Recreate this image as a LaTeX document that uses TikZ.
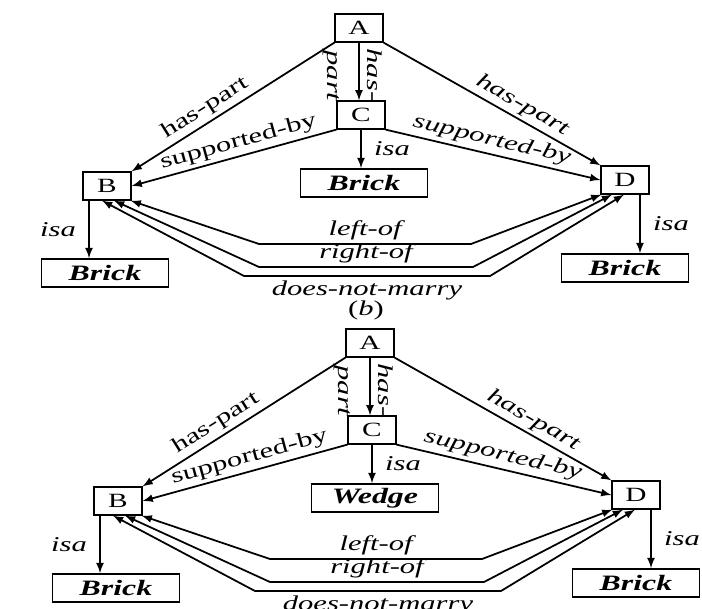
\documentclass[tikz,border=0pt]{standalone}
\usepackage{fontspec}
\setmainfont{Liberation Serif}[FakeStretch=1.45]
\usetikzlibrary{arrows,calc}
\tikzset{>=latex}
\tikzset{
  letter/.style={draw,line width=1pt,minimum width=0.95cm,minimum height=0.55cm,inner sep=0pt,font=\fontsize{11.5}{11.5}\selectfont},
  kind/.style={draw,line width=1pt,minimum width=2.54cm,minimum height=0.56cm,inner sep=0pt,font=\fontsize{12.5}{12.5}\selectfont\bfseries\itshape},
  rel/.style={font=\fontsize{12}{12}\selectfont\itshape,inner sep=2pt},
  relup/.style={font=\fontsize{12}{12}\selectfont,inner sep=2pt},
  link/.style={->,line width=1pt},
  twin/.style={<->,line width=1pt}
}

\begin{document}
\begin{tikzpicture}[x=0.02cm,y=-0.02cm]
  \useasboundingbox (0,0) rectangle (702,608);
  \foreach \pre/\dx/\dy/\what in {top/0/0/Brick, bot/11/315/Wedge}{
    \begin{scope}[shift={(\dx,\dy)},name prefix=\pre-]
      % Boxes
      \node[letter] (A) at (359,28) {A};
      \node[letter] (C) at (361,115) {C};
      \node[letter] (B) at (107,186) {B};
      \node[letter] (D) at (625,180) {D};
      \node[kind] (M) at (364,183) {\what};
      \node[kind] (L) at (105,273) {Brick};
      \node[kind] (R) at (625,268) {Brick};
      % has-part
      \draw[link] (A.south west) -- (B.north east) node[relup,pos=0.6,sloped,above] {has-part};
      \draw[link] (A.south east) -- (D.north west) node[rel,pos=0.61,sloped,above] {has-part};
      \draw[link] (A.south) -- (A.south |- C.north);
      \node[rel,rotate=-90] (hp1) at (375,75) {has-};
      \node[rel,rotate=-90] (hp2) at (331,76) {part};
      % supported-by
      \draw[link] (C.south west) -- (B.east) node[relup,pos=0.46,sloped,above] {supported-by};
      \draw[link] (C.south east) -- (D.west) node[rel,pos=0.48,sloped,above] {supported-by};
      % isa
      \draw[link] (C.south) -- (C.south |- M.north) node[rel,midway,right=5pt] {isa};
      \draw[link] ([xshift=-0.36cm]B.south) -- ([xshift=-0.36cm]B.south |- L.north) node[rel,midway,left=5pt] {isa};
      \draw[link] ([xshift=0.3cm]D.south) -- ([xshift=0.3cm]D.south |- R.north) node[rel,midway,right=5pt] {isa};
      % B and D
      \draw[twin] ([xshift=-0.02cm]B.south east) -- (259,244) -- node[rel,above] {left-of} (471,244) -- ([xshift=0.02cm]D.south west);
      \draw[twin] ([xshift=0.14cm]B.south) -- (259,267) -- node[rel,above] {right-of} (473,267) -- ([xshift=-0.26cm]D.south);
      \draw[twin] ([xshift=-0.1cm]B.south) -- (244,276) -- node[rel,below] {does-not-marry} (490,276) -- ([xshift=-0.02cm]D.south);
    \end{scope}
  }
  \node[relup] (caption) at (366,310) {(\textit{b})};
\end{tikzpicture}
\end{document}
